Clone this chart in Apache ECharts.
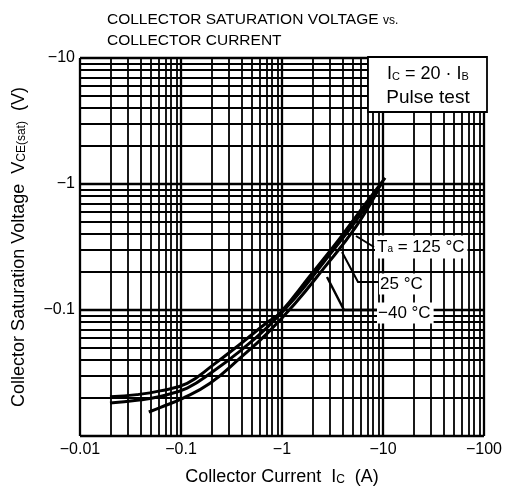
<!DOCTYPE html>
<html>
<head>
<meta charset="utf-8">
<script src="https://cdn.jsdelivr.net/npm/echarts@6/dist/echarts.min.js"></script>
<style>html,body{margin:0;padding:0;background:#fff}#c{width:505px;height:495px}</style>
</head>
<body>
<div id="c"></div>
<script>
// ---- data (magnitudes; axis labels carry the minus sign) ----
const xTicks = [0.01, 0.1, 1, 10, 100];
const xTickLabels = ['\u22120.01', '\u22120.1', '\u22121', '\u221210', '\u2212100'];
const yTicks = [0.01, 0.1, 1, 10];
const yTickLabels = ['', '\u22120.1', '\u22121', '\u221210'];

const ic_125 = [0.0198, 0.0366, 0.062, 0.115, 0.207, 0.384, 0.71, 0.955, 1.89, 3.75, 5.92, 10.5];
const vce_125 = [0.0205, 0.0213, 0.0228, 0.0262, 0.0365, 0.0535, 0.0795, 0.0947, 0.186, 0.372, 0.61, 1.12];
const ic_25 = [0.0198, 0.0366, 0.062, 0.115, 0.207, 0.384, 0.71, 1.34, 2.6, 5.3, 9.8];
const vce_25 = [0.0183, 0.0192, 0.0206, 0.0240, 0.0325, 0.0472, 0.0725, 0.124, 0.24, 0.50, 1.02];
const ic_m40 = [0.048, 0.062, 0.105, 0.194, 0.384, 0.71, 1.34, 2.6, 5.3, 9.0];
const vce_m40 = [0.0155, 0.0168, 0.0200, 0.0262, 0.0415, 0.0650, 0.112, 0.215, 0.448, 0.90];

// grid lines: 1..9 within each decade
const gridMultipliers = [1, 2, 3, 4, 5, 6, 7, 8, 9];
function decadeLines(ticks) {
  const out = [];
  for (let i = 0; i < ticks.length - 1; i++) {
    gridMultipliers.forEach(m => out.push({ v: ticks[i] * m, major: m === 1 }));
  }
  out.push({ v: ticks[ticks.length - 1], major: true });
  return out;
}
const xLines = decadeLines(xTicks);
const yLines = decadeLines(yTicks);

function pairs(xs, ys) { return xs.map((x, i) => [x, ys[i]]); }
function tickLabel(ticks, labels, v) {
  const k = Math.round(Math.log10(v));
  const idx = ticks.findIndex(t => Math.round(Math.log10(t)) === k);
  return idx >= 0 ? labels[idx] : '';
}

const FONT = '"Liberation Sans", Arial, sans-serif';
const chart = echarts.init(document.getElementById('c'), null, { renderer: 'canvas' });

const gridMarks = [];
xLines.forEach(l => gridMarks.push({ xAxis: l.v, lineStyle: { color: '#000', width: l.major ? 2.3 : 1.8, type: 'solid' } }));
yLines.forEach(l => gridMarks.push({ yAxis: l.v, lineStyle: { color: '#000', width: l.major ? 2.3 : 1.8, type: 'solid' } }));

const curveStyle = { color: '#000', width: 3 };

chart.setOption({
  animation: false,
  backgroundColor: '#fff',
  grid: { left: 80, right: 21, top: 58, bottom: 59, show: false },
  xAxis: {
    type: 'log', logBase: 10, min: 0.01, max: 100,
    axisLine: { show: false }, axisTick: { show: false }, splitLine: { show: false },
    axisLabel: { color: '#000', fontSize: 16, fontFamily: FONT, margin: 6,
      formatter: v => tickLabel(xTicks, xTickLabels, v) },
    name: 'Collector Current  I{s|C}  (A)',
    nameLocation: 'middle', nameGap: 32,
    nameTextStyle: { color: '#000', fontSize: 18, fontFamily: FONT,
      rich: { s: { fontSize: 12, fontFamily: FONT, color: '#000', padding: [5, 0, 0, 0] } } }
  },
  yAxis: {
    type: 'log', logBase: 10, min: 0.01, max: 10,
    axisLine: { show: false }, axisTick: { show: false }, splitLine: { show: false },
    axisLabel: { color: '#000', fontSize: 16, fontFamily: FONT, margin: 5,
      formatter: v => tickLabel(yTicks, yTickLabels, v) },
    name: 'Collector Saturation Voltage  V{s|CE(sat)}  (V)',
    nameLocation: 'middle', nameGap: 52, nameRotate: 90,
    nameTextStyle: { color: '#000', fontSize: 18, fontFamily: FONT,
      rich: { s: { fontSize: 12, fontFamily: FONT, color: '#000', padding: [5, 0, 0, 0] } } }
  },
  series: [
    { type: 'line', data: [], z: 1, silent: true,
      markLine: { silent: true, symbol: ['none', 'none'], label: { show: false }, animation: false, data: gridMarks } },
    { name: '125', type: 'line', data: pairs(ic_125, vce_125), smooth: 0.45, showSymbol: false, symbol: 'none', lineStyle: curveStyle, z: 3 },
    { name: '25', type: 'line', data: pairs(ic_25, vce_25), smooth: 0.45, showSymbol: false, symbol: 'none', lineStyle: curveStyle, z: 3 },
    { name: '-40', type: 'line', data: pairs(ic_m40, vce_m40), smooth: 0.45, showSymbol: false, symbol: 'none', lineStyle: curveStyle, z: 3 }
  ],
  graphic: [
    { type: 'text', left: 107, top: 9, z: 20,
      style: { text: 'COLLECTOR SATURATION VOLTAGE {v|vs.}\nCOLLECTOR CURRENT', fill: '#000',
        font: '15.5px ' + FONT, lineHeight: 21,
        rich: { v: { fontSize: 12, fontFamily: FONT, fill: '#000', padding: [3, 0, 0, 0] } } } },
    // condition box
    { type: 'rect', z: 20, shape: { x: 368, y: 57, width: 119, height: 55 },
      style: { fill: '#fff', stroke: '#000', lineWidth: 1.8 } },
    { type: 'text', z: 21, x: 428, y: 74,
      style: { text: 'I{s|C} = 20 \u00b7 I{s|B}', fill: '#000', font: '18px ' + FONT, align: 'center', verticalAlign: 'middle',
        rich: { s: { fontSize: 11, fontFamily: FONT, fill: '#000', padding: [5, 0, 0, 0] } } } },
    { type: 'text', z: 21, x: 428, y: 98,
      style: { text: 'Pulse test', fill: '#000', font: '19px ' + FONT, align: 'center', verticalAlign: 'middle' } },
    // temperature labels
    { type: 'polyline', z: 20, shape: { points: [[356, 236], [374, 247]] }, style: { stroke: '#000', lineWidth: 2 } },
    { type: 'polyline', z: 20, shape: { points: [[342, 252], [358, 282], [378, 282]] }, style: { stroke: '#000', lineWidth: 2 } },
    { type: 'polyline', z: 20, shape: { points: [[327, 277], [344, 310], [377, 310]] }, style: { stroke: '#000', lineWidth: 2.4 } },
    { type: 'text', z: 21, x: 375, y: 247,
      style: { text: 'T{s|a} = 125 \u00b0C', fill: '#000', font: '17px ' + FONT, verticalAlign: 'middle',
        backgroundColor: '#fff', padding: [3, 3, 3, 2],
        rich: { s: { fontSize: 10, fontFamily: FONT, fill: '#000', padding: [5, 0, 0, 0] } } } },
    { type: 'text', z: 21, x: 379, y: 284,
      style: { text: '25 \u00b0C', fill: '#000', font: '17px ' + FONT, verticalAlign: 'middle',
        backgroundColor: '#fff', padding: [2, 3, 2, 1] } },
    { type: 'text', z: 21, x: 377, y: 313,
      style: { text: '\u221240 \u00b0C', fill: '#000', font: '17px ' + FONT, verticalAlign: 'middle',
        backgroundColor: '#fff', padding: [2, 3, 2, 1] } }
  ]
});
</script>
</body>
</html>
